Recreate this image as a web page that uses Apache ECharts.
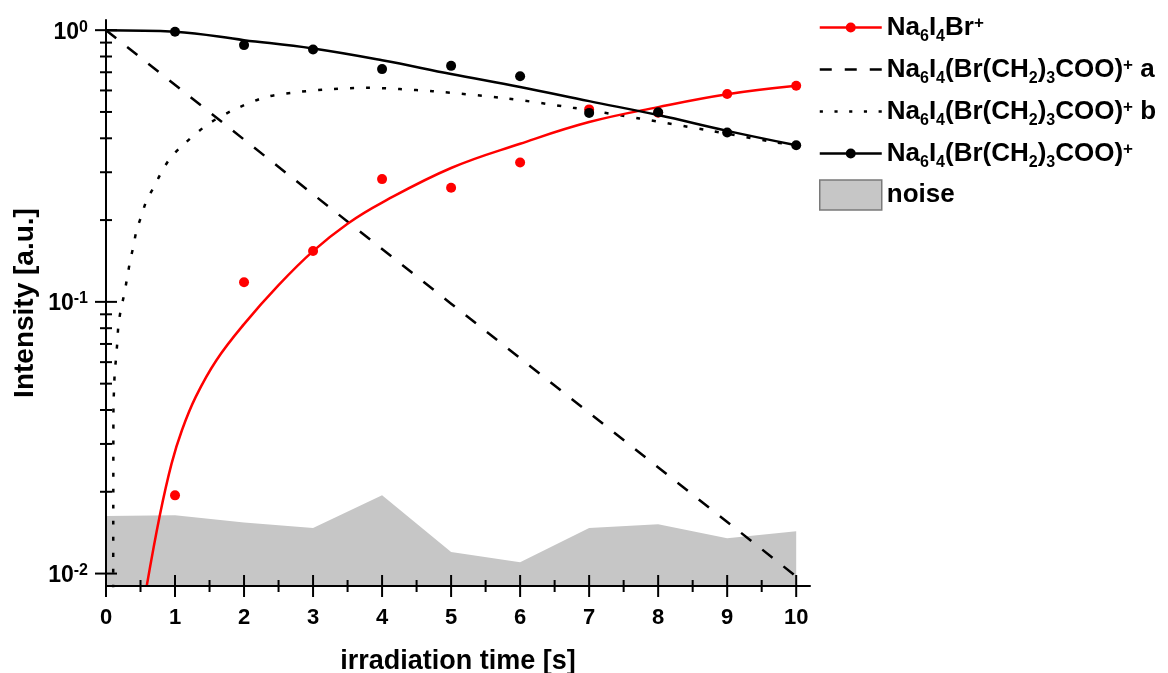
<!DOCTYPE html>
<html>
<head>
<meta charset="utf-8">
<script src="https://cdn.jsdelivr.net/npm/echarts@6/dist/echarts.min.js"></script>
<style>
html, body { margin: 0; padding: 0; background: #fff; }
#chart { width: 1168px; height: 673px; }
</style>
</head>
<body>
<div id="chart"></div>
<script>
// measured points
var timeS = [1, 2, 3, 4, 5, 6, 7, 8, 9, 10];
var brIon = [0.0194, 0.118, 0.154, 0.283, 0.263, 0.326, 0.511, 0.497, 0.582, 0.624];
var parentIon = [0.986, 0.881, 0.849, 0.719, 0.739, 0.677, 0.496, 0.499, 0.420, 0.377];

// noise band
var noiseX = [0, 1, 2, 3, 4, 5, 6, 7, 8, 9, 10];
var noise = [0.0163, 0.0164, 0.0154, 0.0147, 0.0194, 0.0120, 0.0110, 0.0147, 0.0152, 0.0135, 0.0143];

// fit curves
var brFitX = [0.59, 0.78, 0.95, 1.1, 1.3, 1.6, 2.0, 2.5, 3.0, 3.5, 4.0, 5.0, 6.0, 7.0, 8.0, 9.0, 10];
var brFit = [0.0090, 0.0164, 0.0254, 0.0337, 0.0447, 0.0610, 0.0828, 0.1152, 0.1537, 0.194, 0.232, 0.311, 0.382, 0.459, 0.521, 0.581, 0.624];

var parentFitX = [0, 1, 2, 3, 4, 5, 6, 7, 8, 9, 10];
var parentFit = [1.0, 0.987, 0.919, 0.856, 0.775, 0.690, 0.618, 0.548, 0.487, 0.426, 0.377];

var fitAX = [0, 5, 10];
var fitA = [1.0, 0.0985, 0.00976];

var fitBX = [0.104, 0.106, 0.108, 0.116, 0.126, 0.145, 0.164, 0.178, 0.213, 0.261, 0.30, 0.347, 0.395, 0.444, 0.517, 0.589, 0.709, 0.806, 0.927, 1.096, 1.458, 1.843, 2.327, 2.809, 3.29, 3.774, 4.257, 4.735, 5.8, 6.766, 7.73, 8.7, 9.66, 10];
var fitB = [0.0088, 0.02, 0.041, 0.0473, 0.0545, 0.0619, 0.0712, 0.0809, 0.0932, 0.1059, 0.120, 0.1403, 0.1593, 0.1836, 0.2085, 0.2367, 0.2689, 0.301, 0.337, 0.374, 0.447, 0.508, 0.568, 0.593, 0.607, 0.614, 0.607, 0.596, 0.561, 0.518, 0.473, 0.429, 0.388, 0.377];

// axis ticks
var xMajorTicks = [0, 1, 2, 3, 4, 5, 6, 7, 8, 9, 10];
var xMinorTicks = [0.5, 1.5, 2.5, 3.5, 4.5, 5.5, 6.5, 7.5, 8.5, 9.5];
var yMajorTicks = [0.01, 0.1, 1];
var yMinorTicks = [0.02, 0.03, 0.04, 0.05, 0.06, 0.07, 0.08, 0.09, 0.2, 0.3, 0.4, 0.5, 0.6, 0.7, 0.8, 0.9];

var yMin = 0.009, yMax = 1.09;
var FONT = 'Liberation Sans, Arial, sans-serif';

var legendNames = {
	br: 'Na{s|6}I{s|4}Br{p|+}',
	a: 'Na{s|6}I{s|4}(Br(CH{s|2}){s|3}COO){p|+} a',
	b: 'Na{s|6}I{s|4}(Br(CH{s|2}){s|3}COO){p|+} b',
	parent: 'Na{s|6}I{s|4}(Br(CH{s|2}){s|3}COO){p|+}',
	noise: 'noise'
};

function pairs(xs, ys) {
	var out = [];
	for (var i = 0; i < xs.length; i++) out.push([xs[i], ys[i]]);
	return out;
}

function tickData() {
	var d = [];
	xMajorTicks.forEach(function(v) { d.push([v, yMin, 1, 11]); });
	xMinorTicks.forEach(function(v) { d.push([v, yMin, 1, 6]); });
	yMajorTicks.forEach(function(v) { d.push([0, v, 0, 11]); });
	yMinorTicks.forEach(function(v) { d.push([0, v, 0, 6]); });
	return d;
}

var lineDotIcon = 'path://M0,14H62V16.5H0Z M26,15.25A5,5 0 1,1 36,15.25A5,5 0 1,1 26,15.25Z';
var dashIcon = 'path://M0,0H12V2.5H0Z M25,0H37V2.5H25Z M50,0H62V2.5H50Z';
var dotIcon = 'path://M0,0H3V2.5H0Z M14,0H17V2.5H14Z M28,0H31V2.5H28Z M42,0H45V2.5H42Z M56,0H59V2.5H56Z';

var myChart = echarts.init(document.getElementById('chart'));
myChart.setOption({
	animation: false,
	backgroundColor: '#fff',
	grid: { left: 106, right: 358, top: 20, bottom: 87, outerBoundsMode: 'none', containLabel: false },
	legend: {
		orient: 'vertical',
		left: 814,
		top: 5,
		itemWidth: 62,
		itemHeight: 30,
		itemGap: 7,
		selectedMode: false,
		itemStyle: { borderWidth: 0 },
		data: [
			{ name: 'br', icon: lineDotIcon },
			{ name: 'a', icon: dashIcon },
			{ name: 'b', icon: dotIcon },
			{ name: 'parent', icon: lineDotIcon },
			{ name: 'noise', icon: 'rect', itemStyle: { borderColor: '#7a7a7a', borderWidth: 1.5 } }
		],
		formatter: function(name) { return legendNames[name]; },
		textStyle: {
			fontFamily: FONT, fontWeight: 'bold', fontSize: 26, color: '#000', lineHeight: 34,
			rich: {
				s: { fontFamily: FONT, fontWeight: 'bold', fontSize: 16, color: '#000', lineHeight: 15, padding: [19, 0, 0, 0] },
				p: { fontFamily: FONT, fontWeight: 'bold', fontSize: 17, color: '#000', lineHeight: 15, padding: [0, 0, 8, 0] }
			}
		}
	},
	xAxis: {
		type: 'value',
		min: 0,
		max: 10.2,
		interval: 1,
		z: 10,
		name: 'irradiation time [s]',
		nameLocation: 'middle',
		nameGap: 62,
		nameTextStyle: { fontFamily: FONT, fontWeight: 'bold', fontSize: 27, color: '#000' },
		axisLine: { onZero: false, lineStyle: { color: '#000', width: 2 } },
		axisTick: { show: false },
		splitLine: { show: false },
		axisLabel: {
			margin: 21, showMaxLabel: false,
			fontFamily: FONT, fontWeight: 'bold', fontSize: 22, color: '#000',
			formatter: function(v) { return Math.abs(v - Math.round(v)) < 1e-6 ? String(Math.round(v)) : ''; }
		}
	},
	yAxis: {
		type: 'log',
		logBase: 10,
		min: yMin,
		max: yMax,
		z: 10,
		name: 'Intensity [a.u.]',
		nameLocation: 'middle',
		nameGap: 67,
		nameMoveOverlap: false,
		nameTextStyle: { fontFamily: FONT, fontWeight: 'bold', fontSize: 28, color: '#000' },
		axisLine: { onZero: false, lineStyle: { color: '#000', width: 2 } },
		axisTick: { show: false },
		minorTick: { show: false },
		splitLine: { show: false },
		axisLabel: {
			margin: 18,
			padding: [4, 0, 0, 0],
			showMinLabel: false,
			showMaxLabel: false,
			fontFamily: FONT, fontWeight: 'bold', fontSize: 23, color: '#000', lineHeight: 24,
			formatter: function(v) {
				var e = Math.log(v) / Math.LN10;
				var r = Math.round(e);
				if (Math.abs(e - r) > 1e-6) return '';
				return '10{p|' + r + '}';
			},
			rich: {
				p: { fontFamily: FONT, fontWeight: 'bold', fontSize: 16, color: '#000', lineHeight: 14, padding: [0, 0, 10, 0] }
			}
		}
	},
	series: [
		{
			name: 'noise',
			type: 'line',
			data: pairs(noiseX, noise),
			symbol: 'none',
			silent: true,
			z: 1,
			itemStyle: { color: '#c6c6c6' },
			lineStyle: { width: 0, color: '#c6c6c6' },
			areaStyle: { color: '#c6c6c6', opacity: 1, origin: 'start' }
		},
		{
			name: 'a',
			type: 'line',
			data: pairs(fitAX, fitA),
			symbol: 'none',
			z: 2,
			itemStyle: { color: '#000' },
			lineStyle: { color: '#000', width: 2.5, type: [13, 14] }
		},
		{
			name: 'b',
			type: 'line',
			data: pairs(fitBX, fitB),
			symbol: 'none',
			smooth: 0.3,
			z: 2,
			itemStyle: { color: '#000' },
			lineStyle: { color: '#000', width: 2.5, type: [4, 12] }
		},
		{
			name: 'br',
			type: 'line',
			data: pairs(brFitX, brFit),
			symbol: 'none',
			smooth: 0.4,
			z: 3,
			itemStyle: { color: '#ff0000' },
			lineStyle: { color: '#ff0000', width: 2.5 }
		},
		{
			name: 'br points',
			type: 'scatter',
			data: pairs(timeS, brIon),
			symbol: 'circle',
			symbolSize: 10,
			z: 4,
			itemStyle: { color: '#ff0000', opacity: 1 }
		},
		{
			name: 'parent',
			type: 'line',
			data: pairs(parentFitX, parentFit),
			symbol: 'none',
			smooth: 0.4,
			z: 5,
			itemStyle: { color: '#000' },
			lineStyle: { color: '#000', width: 2.5 }
		},
		{
			name: 'parent points',
			type: 'scatter',
			data: pairs(timeS, parentIon),
			symbol: 'circle',
			symbolSize: 10,
			z: 6,
			itemStyle: { color: '#000', opacity: 1 }
		},
		{
			name: 'ticks',
			type: 'custom',
			silent: true,
			clip: false,
			z: 11,
			data: tickData(),
			renderItem: function(params, api) {
				var p = api.coord([api.value(0), api.value(1)]);
				var h = api.value(3);
				var shape = api.value(2) === 1
					? { x1: p[0], y1: p[1] - h, x2: p[0], y2: p[1] + h }
					: { x1: p[0] - h, y1: p[1], x2: p[0] + h, y2: p[1] };
				return { type: 'line', shape: shape, style: { stroke: '#000', lineWidth: 2 } };
			}
		}
	]
});
</script>
</body>
</html>
